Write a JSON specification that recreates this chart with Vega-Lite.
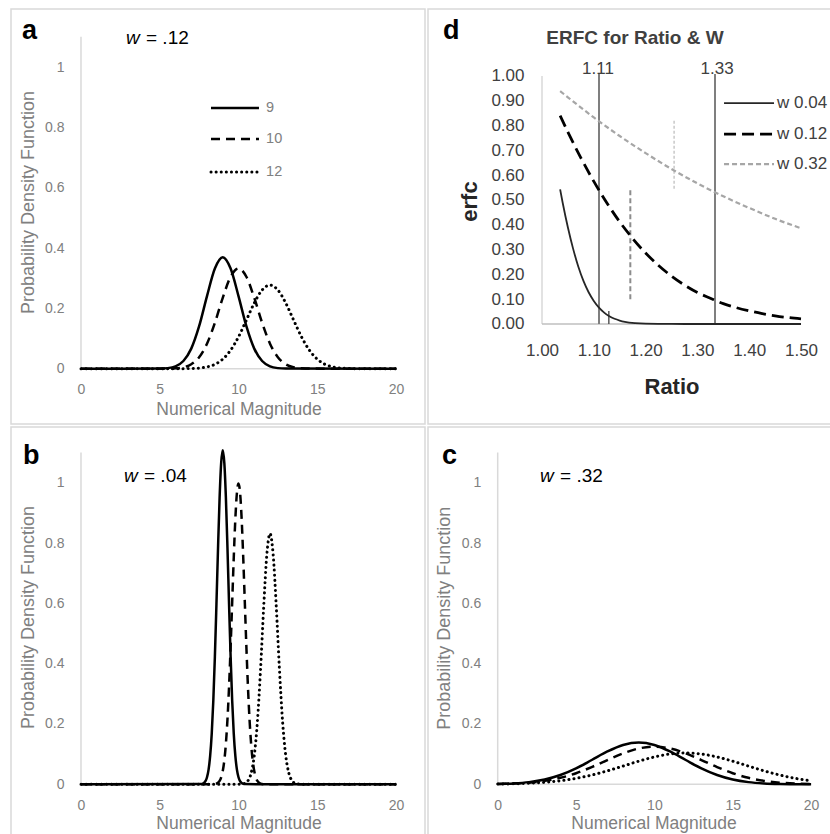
{
  "$schema": "https://vega.github.io/schema/vega-lite/v6.json",
  "padding": {"left": 10, "top": 8, "right": 0, "bottom": 0},
  "background": "white",
  "config": {
    "view": {"stroke": "#d9d9d9", "strokeWidth": 1.5},
    "font": "Liberation Sans",
    "axis": {"domain": false, "ticks": false, "grid": false, "labelFlush": false, "labelOverlap": false, "labelFont": "Liberation Sans", "titleFont": "Liberation Sans"}
  },
  "datasets": {
    "a": [
      {"n":"9","x":0,"y":0},{"n":"9","x":5,"y":0.0004},{"n":"9","x":5.5,"y":0.0019},{"n":"9","x":6,"y":0.0078},{"n":"9","x":6.5,"y":0.0254},{"n":"9","x":7,"y":0.0665},{"n":"9","x":7.5,"y":0.1408},{"n":"9","x":8,"y":0.2406},{"n":"9","x":8.5,"y":0.3319},{"n":"9","x":9,"y":0.3694},{"n":"9","x":9.5,"y":0.3319},{"n":"9","x":10,"y":0.2406},{"n":"9","x":10.5,"y":0.1408},{"n":"9","x":11,"y":0.0665},{"n":"9","x":11.5,"y":0.0254},{"n":"9","x":12,"y":0.0078},{"n":"9","x":12.5,"y":0.0019},{"n":"9","x":13,"y":0.0004},{"n":"9","x":20,"y":0},
      {"n":"10","x":0,"y":0},{"n":"10","x":5.5,"y":0.0003},{"n":"10","x":6,"y":0.0013},{"n":"10","x":6.5,"y":0.0047},{"n":"10","x":7,"y":0.0146},{"n":"10","x":7.5,"y":0.038},{"n":"10","x":8,"y":0.0829},{"n":"10","x":8.5,"y":0.1522},{"n":"10","x":9,"y":0.2349},{"n":"10","x":9.5,"y":0.3049},{"n":"10","x":10,"y":0.3325},{"n":"10","x":10.5,"y":0.3049},{"n":"10","x":11,"y":0.2349},{"n":"10","x":11.5,"y":0.1522},{"n":"10","x":12,"y":0.0829},{"n":"10","x":12.5,"y":0.038},{"n":"10","x":13,"y":0.0146},{"n":"10","x":13.5,"y":0.0047},{"n":"10","x":14,"y":0.0013},{"n":"10","x":14.5,"y":0.0003},{"n":"10","x":20,"y":0},
      {"n":"12","x":0,"y":0},{"n":"12","x":6.5,"y":0.0002},{"n":"12","x":7,"y":0.0007},{"n":"12","x":7.5,"y":0.0021},{"n":"12","x":8,"y":0.0058},{"n":"12","x":8.5,"y":0.0144},{"n":"12","x":9,"y":0.0316},{"n":"12","x":9.5,"y":0.0614},{"n":"12","x":10,"y":0.1056},{"n":"12","x":10.5,"y":0.161},{"n":"12","x":11,"y":0.2177},{"n":"12","x":11.5,"y":0.2608},{"n":"12","x":12,"y":0.277},{"n":"12","x":12.5,"y":0.2608},{"n":"12","x":13,"y":0.2177},{"n":"12","x":13.5,"y":0.161},{"n":"12","x":14,"y":0.1056},{"n":"12","x":14.5,"y":0.0614},{"n":"12","x":15,"y":0.0316},{"n":"12","x":15.5,"y":0.0144},{"n":"12","x":16,"y":0.0058},{"n":"12","x":16.5,"y":0.0021},{"n":"12","x":17,"y":0.0007},{"n":"12","x":17.5,"y":0.0002},{"n":"12","x":20,"y":0}
    ],
    "b": [
      {"n":"9","x":0,"y":0},{"n":"9","x":7.6,"y":0.0006},{"n":"9","x":7.8,"y":0.0043},{"n":"9","x":7.9,"y":0.0104},{"n":"9","x":8.0,"y":0.0234},{"n":"9","x":8.1,"y":0.0487},{"n":"9","x":8.2,"y":0.0939},{"n":"9","x":8.3,"y":0.1673},{"n":"9","x":8.4,"y":0.2763},{"n":"9","x":8.5,"y":0.4224},{"n":"9","x":8.6,"y":0.5977},{"n":"9","x":8.7,"y":0.7829},{"n":"9","x":8.8,"y":0.9496},{"n":"9","x":8.9,"y":1.066},{"n":"9","x":9.0,"y":1.108},{"n":"9","x":9.1,"y":1.066},{"n":"9","x":9.2,"y":0.9496},{"n":"9","x":9.3,"y":0.7829},{"n":"9","x":9.4,"y":0.5977},{"n":"9","x":9.5,"y":0.4224},{"n":"9","x":9.6,"y":0.2763},{"n":"9","x":9.7,"y":0.1673},{"n":"9","x":9.8,"y":0.0939},{"n":"9","x":9.9,"y":0.0487},{"n":"9","x":10.0,"y":0.0234},{"n":"9","x":10.1,"y":0.0104},{"n":"9","x":10.2,"y":0.0043},{"n":"9","x":10.4,"y":0.0006},{"n":"9","x":20,"y":0},
      {"n":"10","x":0,"y":0},{"n":"10","x":8.4,"y":0.0003},{"n":"10","x":8.6,"y":0.0022},{"n":"10","x":8.7,"y":0.0051},{"n":"10","x":8.8,"y":0.0111},{"n":"10","x":8.9,"y":0.0227},{"n":"10","x":9.0,"y":0.0438},{"n":"10","x":9.1,"y":0.0794},{"n":"10","x":9.2,"y":0.135},{"n":"10","x":9.3,"y":0.2157},{"n":"10","x":9.4,"y":0.3238},{"n":"10","x":9.5,"y":0.4566},{"n":"10","x":9.6,"y":0.6049},{"n":"10","x":9.7,"y":0.7528},{"n":"10","x":9.8,"y":0.8802},{"n":"10","x":9.9,"y":0.9667},{"n":"10","x":10.0,"y":0.9974},{"n":"10","x":10.1,"y":0.9667},{"n":"10","x":10.2,"y":0.8802},{"n":"10","x":10.3,"y":0.7528},{"n":"10","x":10.4,"y":0.6049},{"n":"10","x":10.5,"y":0.4566},{"n":"10","x":10.6,"y":0.3238},{"n":"10","x":10.7,"y":0.2157},{"n":"10","x":10.8,"y":0.135},{"n":"10","x":10.9,"y":0.0794},{"n":"10","x":11.0,"y":0.0438},{"n":"10","x":11.1,"y":0.0227},{"n":"10","x":11.2,"y":0.0111},{"n":"10","x":11.3,"y":0.0051},{"n":"10","x":11.4,"y":0.0022},{"n":"10","x":11.6,"y":0.0003},{"n":"10","x":20,"y":0},
      {"n":"12","x":0,"y":0},{"n":"12","x":10.0,"y":0.0001},{"n":"12","x":10.2,"y":0.0007},{"n":"12","x":10.4,"y":0.0032},{"n":"12","x":10.6,"y":0.0118},{"n":"12","x":10.8,"y":0.0365},{"n":"12","x":11.0,"y":0.0949},{"n":"12","x":11.2,"y":0.2073},{"n":"12","x":11.4,"y":0.3805},{"n":"12","x":11.6,"y":0.5873},{"n":"12","x":11.8,"y":0.762},{"n":"12","x":12.0,"y":0.8311},{"n":"12","x":12.2,"y":0.762},{"n":"12","x":12.4,"y":0.5873},{"n":"12","x":12.6,"y":0.3805},{"n":"12","x":12.8,"y":0.2073},{"n":"12","x":13.0,"y":0.0949},{"n":"12","x":13.2,"y":0.0365},{"n":"12","x":13.4,"y":0.0118},{"n":"12","x":13.6,"y":0.0032},{"n":"12","x":13.8,"y":0.0007},{"n":"12","x":14.0,"y":0.0001},{"n":"12","x":20,"y":0}
    ],
    "c": [
      {"n":"9","x":0,"y":0.001},{"n":"9","x":1,"y":0.0029},{"n":"9","x":2,"y":0.0072},{"n":"9","x":3,"y":0.0158},{"n":"9","x":4,"y":0.0307},{"n":"9","x":5,"y":0.0528},{"n":"9","x":6,"y":0.0805},{"n":"9","x":7,"y":0.1088},{"n":"9","x":8,"y":0.1304},{"n":"9","x":9,"y":0.1385},{"n":"9","x":10,"y":0.1304},{"n":"9","x":11,"y":0.1088},{"n":"9","x":12,"y":0.0805},{"n":"9","x":13,"y":0.0528},{"n":"9","x":14,"y":0.0307},{"n":"9","x":15,"y":0.0158},{"n":"9","x":16,"y":0.0072},{"n":"9","x":17,"y":0.0029},{"n":"9","x":18,"y":0.001},{"n":"9","x":19,"y":0.0003},{"n":"9","x":20,"y":0.0001},
      {"n":"10","x":0,"y":0.0009},{"n":"10","x":1,"y":0.0024},{"n":"10","x":2,"y":0.0055},{"n":"10","x":3,"y":0.0114},{"n":"10","x":4,"y":0.0215},{"n":"10","x":5,"y":0.0368},{"n":"10","x":6,"y":0.0571},{"n":"10","x":7,"y":0.0804},{"n":"10","x":8,"y":0.1026},{"n":"10","x":9,"y":0.1188},{"n":"10","x":10,"y":0.1247},{"n":"10","x":11,"y":0.1188},{"n":"10","x":12,"y":0.1026},{"n":"10","x":13,"y":0.0804},{"n":"10","x":14,"y":0.0571},{"n":"10","x":15,"y":0.0368},{"n":"10","x":16,"y":0.0215},{"n":"10","x":17,"y":0.0114},{"n":"10","x":18,"y":0.0055},{"n":"10","x":19,"y":0.0024},{"n":"10","x":20,"y":0.0009},
      {"n":"12","x":0,"y":0.0008},{"n":"12","x":1,"y":0.0017},{"n":"12","x":2,"y":0.0035},{"n":"12","x":3,"y":0.0067},{"n":"12","x":4,"y":0.0119},{"n":"12","x":5,"y":0.0197},{"n":"12","x":6,"y":0.0307},{"n":"12","x":7,"y":0.0445},{"n":"12","x":8,"y":0.0604},{"n":"12","x":9,"y":0.0766},{"n":"12","x":10,"y":0.0907},{"n":"12","x":11,"y":0.1004},{"n":"12","x":12,"y":0.1039},{"n":"12","x":13,"y":0.1004},{"n":"12","x":14,"y":0.0907},{"n":"12","x":15,"y":0.0766},{"n":"12","x":16,"y":0.0604},{"n":"12","x":17,"y":0.0445},{"n":"12","x":18,"y":0.0307},{"n":"12","x":19,"y":0.0197},{"n":"12","x":20,"y":0.0119}
    ],
    "d": [
      {"w":"w 0.04","r":1.035,"e":0.543},{"w":"w 0.04","r":1.04,"e":0.488},{"w":"w 0.04","r":1.05,"e":0.389},{"w":"w 0.04","r":1.06,"e":0.304},{"w":"w 0.04","r":1.07,"e":0.232},{"w":"w 0.04","r":1.08,"e":0.174},{"w":"w 0.04","r":1.09,"e":0.128},{"w":"w 0.04","r":1.1,"e":0.093},{"w":"w 0.04","r":1.11,"e":0.066},{"w":"w 0.04","r":1.12,"e":0.046},{"w":"w 0.04","r":1.13,"e":0.031},{"w":"w 0.04","r":1.14,"e":0.021},{"w":"w 0.04","r":1.15,"e":0.014},{"w":"w 0.04","r":1.16,"e":0.009},{"w":"w 0.04","r":1.18,"e":0.0037},{"w":"w 0.04","r":1.2,"e":0.0014},{"w":"w 0.04","r":1.25,"e":0.0001},{"w":"w 0.04","r":1.3,"e":0},{"w":"w 0.04","r":1.4,"e":0},{"w":"w 0.04","r":1.5,"e":0},
      {"w":"w 0.12","r":1.035,"e":0.84},{"w":"w 0.12","r":1.05,"e":0.774},{"w":"w 0.12","r":1.075,"e":0.67},{"w":"w 0.12","r":1.1,"e":0.575},{"w":"w 0.12","r":1.125,"e":0.489},{"w":"w 0.12","r":1.15,"e":0.412},{"w":"w 0.12","r":1.175,"e":0.345},{"w":"w 0.12","r":1.2,"e":0.286},{"w":"w 0.12","r":1.225,"e":0.236},{"w":"w 0.12","r":1.25,"e":0.193},{"w":"w 0.12","r":1.275,"e":0.157},{"w":"w 0.12","r":1.3,"e":0.127},{"w":"w 0.12","r":1.325,"e":0.104},{"w":"w 0.12","r":1.35,"e":0.082},{"w":"w 0.12","r":1.375,"e":0.066},{"w":"w 0.12","r":1.4,"e":0.053},{"w":"w 0.12","r":1.425,"e":0.042},{"w":"w 0.12","r":1.45,"e":0.033},{"w":"w 0.12","r":1.475,"e":0.026},{"w":"w 0.12","r":1.5,"e":0.021},
      {"w":"w 0.32","r":1.035,"e":0.939},{"w":"w 0.32","r":1.05,"e":0.914},{"w":"w 0.32","r":1.1,"e":0.833},{"w":"w 0.32","r":1.15,"e":0.758},{"w":"w 0.32","r":1.2,"e":0.689},{"w":"w 0.32","r":1.25,"e":0.625},{"w":"w 0.32","r":1.3,"e":0.567},{"w":"w 0.32","r":1.35,"e":0.515},{"w":"w 0.32","r":1.4,"e":0.468},{"w":"w 0.32","r":1.45,"e":0.424},{"w":"w 0.32","r":1.5,"e":0.386}
    ]
  },
  "vconcat": [
    {
      "hconcat": [
        {
          "width": 414, "height": 415,
          "data": {"values": [{}]},
          "layer": [
            {"mark": {"type": "rule", "color": "#d9d9d9", "strokeWidth": 1.5},
             "encoding": {
               "x": {"datum": 0, "type": "quantitative", "scale": {"domain": [-4.444, 21.841], "nice": false, "zero": false},
                     "axis": {"values": [0,5,10,15,20], "format": "~g", "offset": -55.3, "labelPadding": 14, "labelFontSize": 14, "labelColor": "#808080", "title": "Numerical Magnitude", "titleFontSize": 17.5, "titleFontWeight": "normal", "titleColor": "#808080", "titleX": 227.5, "titleY": 41, "titleBaseline": "middle", "titleAlign": "center"}},
               "y": {"datum": 0, "type": "quantitative", "scale": {"domain": [-0.1833, 1.1923], "nice": false, "zero": false},
                     "axis": {"values": [0,0.2,0.4,0.6,0.8,1], "format": "~g", "offset": -70, "labelPadding": 17, "labelFontSize": 14, "labelColor": "#808080", "title": "Probability Density Function", "titleFontSize": 18, "titleFontWeight": "normal", "titleColor": "#808080", "titleX": -53, "titleY": 193, "titleBaseline": "middle", "titleAlign": "center"}},
               "y2": {"datum": 1.1}
             }},
            {"mark": {"type": "rule", "color": "#d9d9d9", "strokeWidth": 1.5},
             "encoding": {"x": {"datum": 0}, "x2": {"datum": 20}, "y": {"datum": 0}}},
            {"data": {"name": "a"}, "transform": [{"filter": "datum.n === '9'"}],
             "mark": {"type": "line", "color": "black", "strokeWidth": 2.5, "interpolate": "monotone"},
             "encoding": {"x": {"field": "x", "type": "quantitative"}, "y": {"field": "y", "type": "quantitative"}}},
            {"data": {"name": "a"}, "transform": [{"filter": "datum.n === '10'"}],
             "mark": {"type": "line", "color": "black", "strokeWidth": 2.5, "strokeDash": [9, 6], "interpolate": "monotone"},
             "encoding": {"x": {"field": "x", "type": "quantitative"}, "y": {"field": "y", "type": "quantitative"}}},
            {"data": {"name": "a"}, "transform": [{"filter": "datum.n === '12'"}],
             "mark": {"type": "line", "color": "black", "strokeWidth": 3, "strokeDash": [0.1, 5], "strokeCap": "round", "interpolate": "monotone"},
             "encoding": {"x": {"field": "x", "type": "quantitative"}, "y": {"field": "y", "type": "quantitative"}}},
            {"mark": {"type": "rule", "color": "black", "strokeWidth": 2.5},
             "encoding": {"x": {"datum": 8.254}, "x2": {"datum": 11.3}, "y": {"datum": 0.864}}},
            {"mark": {"type": "rule", "color": "black", "strokeWidth": 2.5, "strokeDash": [9, 6]},
             "encoding": {"x": {"datum": 8.254}, "x2": {"datum": 11.3}, "y": {"datum": 0.761}}},
            {"mark": {"type": "rule", "color": "black", "strokeWidth": 3, "strokeDash": [0.1, 5], "strokeCap": "round"},
             "encoding": {"x": {"datum": 8.254}, "x2": {"datum": 11.3}, "y": {"datum": 0.652}}},
            {"mark": {"type": "text", "text": "9", "align": "left", "baseline": "middle", "fontSize": 14.5, "color": "#808080"},
             "encoding": {"x": {"datum": 11.75}, "y": {"datum": 0.864}}},
            {"mark": {"type": "text", "text": "10", "align": "left", "baseline": "middle", "fontSize": 14.5, "color": "#808080"},
             "encoding": {"x": {"datum": 11.75}, "y": {"datum": 0.761}}},
            {"mark": {"type": "text", "text": "12", "align": "left", "baseline": "middle", "fontSize": 14.5, "color": "#808080"},
             "encoding": {"x": {"datum": 11.75}, "y": {"datum": 0.652}}},
            {"mark": {"type": "text", "text": "a", "align": "left", "baseline": "alphabetic", "fontSize": 27, "fontWeight": "bold", "color": "black"},
             "encoding": {"x": {"datum": -3.746}, "y": {"datum": 1.0928}}},
            {"mark": {"type": "text", "text": "w", "align": "left", "baseline": "middle", "fontSize": 19, "fontStyle": "italic", "color": "black"},
             "encoding": {"x": {"datum": 2.857}, "y": {"datum": 1.0978}}},
            {"mark": {"type": "text", "text": "= .12", "align": "left", "baseline": "middle", "fontSize": 19, "color": "black"},
             "encoding": {"x": {"datum": 4.127}, "y": {"datum": 1.0978}}}
          ]
        },
        {
          "width": 403, "height": 415,
          "data": {"values": [{}]},
          "layer": [
            {"mark": {"type": "rule", "color": "#d9d9d9", "strokeWidth": 1.5},
             "encoding": {
               "x": {"datum": 1, "type": "quantitative", "scale": {"domain": [0.77992, 1.5579], "nice": false, "zero": false},
                     "axis": {"values": [1, 1.1, 1.2, 1.3, 1.4, 1.5], "format": ".2f", "offset": -100, "labelPadding": 18, "labelFontSize": 17, "labelColor": "#404040", "title": "Ratio", "titleFontSize": 22, "titleFontWeight": "bold", "titleColor": "#262626", "titleX": 243.5, "titleY": 62, "titleBaseline": "middle", "titleAlign": "center"}},
               "y": {"datum": 0, "type": "quantitative", "scale": {"domain": [-0.40323, 1.27016], "nice": false, "zero": false},
                     "axis": {"values": [0, 0.1, 0.2, 0.3, 0.4, 0.5, 0.6, 0.7, 0.8, 0.9, 1], "format": ".2f", "offset": -114, "labelPadding": 18, "labelFontSize": 17, "labelColor": "#404040", "title": "erfc", "titleFontSize": 22, "titleFontWeight": "bold", "titleColor": "#262626", "titleX": -73, "titleY": 192, "titleBaseline": "middle", "titleAlign": "center"}},
               "y2": {"datum": 1.0}
             }},
            {"mark": {"type": "rule", "color": "#bfbfbf", "strokeWidth": 1.5},
             "encoding": {"x": {"datum": 1}, "x2": {"datum": 1.5}, "y": {"datum": 0}}},
            {"mark": {"type": "rule", "color": "#7f7f7f", "strokeWidth": 2},
             "encoding": {"x": {"datum": 1.11}, "y": {"datum": 0}, "y2": {"datum": 1.008}}},
            {"mark": {"type": "rule", "color": "#7f7f7f", "strokeWidth": 2},
             "encoding": {"x": {"datum": 1.334}, "y": {"datum": 0}, "y2": {"datum": 1.008}}},
            {"mark": {"type": "rule", "color": "#595959", "strokeWidth": 1.5},
             "encoding": {"x": {"datum": 1.129}, "y": {"datum": 0}, "y2": {"datum": 0.052}}},
            {"mark": {"type": "rule", "color": "#8c8c8c", "strokeWidth": 2, "strokeDash": [5, 3]},
             "encoding": {"x": {"datum": 1.1705}, "y": {"datum": 0.1}, "y2": {"datum": 0.54}}},
            {"mark": {"type": "rule", "color": "#c8c8c8", "strokeWidth": 1.5, "strokeDash": [3, 2]},
             "encoding": {"x": {"datum": 1.255}, "y": {"datum": 0.545}, "y2": {"datum": 0.82}}},
            {"data": {"name": "d"}, "transform": [{"filter": "datum.w === 'w 0.32'"}],
             "mark": {"type": "line", "color": "#a6a6a6", "strokeWidth": 2.2, "strokeDash": [5, 3], "interpolate": "monotone"},
             "encoding": {"x": {"field": "r", "type": "quantitative"}, "y": {"field": "e", "type": "quantitative"}}},
            {"data": {"name": "d"}, "transform": [{"filter": "datum.w === 'w 0.12'"}],
             "mark": {"type": "line", "color": "black", "strokeWidth": 2.8, "strokeDash": [12, 6], "interpolate": "monotone"},
             "encoding": {"x": {"field": "r", "type": "quantitative"}, "y": {"field": "e", "type": "quantitative"}}},
            {"data": {"name": "d"}, "transform": [{"filter": "datum.w === 'w 0.04'"}],
             "mark": {"type": "line", "color": "#262626", "strokeWidth": 1.8, "interpolate": "monotone"},
             "encoding": {"x": {"field": "r", "type": "quantitative"}, "y": {"field": "e", "type": "quantitative"}}},
            {"mark": {"type": "rule", "color": "#262626", "strokeWidth": 1.8},
             "encoding": {"x": {"datum": 1.3514}, "x2": {"datum": 1.4479}, "y": {"datum": 0.891}}},
            {"mark": {"type": "rule", "color": "black", "strokeWidth": 2.8, "strokeDash": [12, 6]},
             "encoding": {"x": {"datum": 1.3514}, "x2": {"datum": 1.4479}, "y": {"datum": 0.766}}},
            {"mark": {"type": "rule", "color": "#a6a6a6", "strokeWidth": 2.2, "strokeDash": [5, 3]},
             "encoding": {"x": {"datum": 1.3514}, "x2": {"datum": 1.4479}, "y": {"datum": 0.645}}},
            {"mark": {"type": "text", "text": "w 0.04", "align": "left", "baseline": "middle", "fontSize": 17, "color": "#404040"},
             "encoding": {"x": {"datum": 1.4537}, "y": {"datum": 0.891}}},
            {"mark": {"type": "text", "text": "w 0.12", "align": "left", "baseline": "middle", "fontSize": 17, "color": "#404040"},
             "encoding": {"x": {"datum": 1.4537}, "y": {"datum": 0.766}}},
            {"mark": {"type": "text", "text": "w 0.32", "align": "left", "baseline": "middle", "fontSize": 17, "color": "#404040"},
             "encoding": {"x": {"datum": 1.4537}, "y": {"datum": 0.645}}},
            {"mark": {"type": "text", "text": "1.11", "align": "center", "baseline": "middle", "fontSize": 17, "color": "#404040"},
             "encoding": {"x": {"datum": 1.108}, "y": {"datum": 1.03}}},
            {"mark": {"type": "text", "text": "1.33", "align": "center", "baseline": "middle", "fontSize": 17, "color": "#404040"},
             "encoding": {"x": {"datum": 1.338}, "y": {"datum": 1.03}}},
            {"mark": {"type": "text", "text": "ERFC for Ratio & W", "align": "center", "baseline": "middle", "fontSize": 19, "fontWeight": "bold", "color": "#404040"},
             "encoding": {"x": {"datum": 1.1795}, "y": {"datum": 1.1532}}},
            {"mark": {"type": "text", "text": "d", "align": "left", "baseline": "alphabetic", "fontSize": 27, "fontWeight": "bold", "color": "black"},
             "encoding": {"x": {"datum": 0.8089}, "y": {"datum": 1.1492}}}
          ]
        }
      ],
      "spacing": 1
    },
    {
      "hconcat": [
        {
          "width": 414, "height": 408,
          "data": {"values": [{}]},
          "layer": [
            {"mark": {"type": "rule", "color": "#d9d9d9", "strokeWidth": 1.5},
             "encoding": {
               "x": {"datum": 0, "type": "quantitative", "scale": {"domain": [-4.444, 21.841], "nice": false, "zero": false},
                     "axis": {"values": [0,5,10,15,20], "format": "~g", "offset": -50.7, "labelPadding": 14, "labelFontSize": 14, "labelColor": "#808080", "title": "Numerical Magnitude", "titleFontSize": 17.5, "titleFontWeight": "normal", "titleColor": "#808080", "titleX": 227.5, "titleY": 39, "titleBaseline": "middle", "titleAlign": "center"}},
               "y": {"datum": 0, "type": "quantitative", "scale": {"domain": [-0.1681, 1.1847], "nice": false, "zero": false},
                     "axis": {"values": [0,0.2,0.4,0.6,0.8,1], "format": "~g", "offset": -70, "labelPadding": 17, "labelFontSize": 14, "labelColor": "#808080", "title": "Probability Density Function", "titleFontSize": 18, "titleFontWeight": "normal", "titleColor": "#808080", "titleX": -53, "titleY": 190, "titleBaseline": "middle", "titleAlign": "center"}},
               "y2": {"datum": 1.1}
             }},
            {"mark": {"type": "rule", "color": "#d9d9d9", "strokeWidth": 1.5},
             "encoding": {"x": {"datum": 0}, "x2": {"datum": 20}, "y": {"datum": 0}}},
            {"data": {"name": "b"}, "transform": [{"filter": "datum.n === '9'"}],
             "mark": {"type": "line", "color": "black", "strokeWidth": 2.5, "interpolate": "monotone"},
             "encoding": {"x": {"field": "x", "type": "quantitative"}, "y": {"field": "y", "type": "quantitative"}}},
            {"data": {"name": "b"}, "transform": [{"filter": "datum.n === '10'"}],
             "mark": {"type": "line", "color": "black", "strokeWidth": 2.5, "strokeDash": [9, 6], "interpolate": "monotone"},
             "encoding": {"x": {"field": "x", "type": "quantitative"}, "y": {"field": "y", "type": "quantitative"}}},
            {"data": {"name": "b"}, "transform": [{"filter": "datum.n === '12'"}],
             "mark": {"type": "line", "color": "black", "strokeWidth": 3, "strokeDash": [0.1, 5], "strokeCap": "round", "interpolate": "monotone"},
             "encoding": {"x": {"field": "x", "type": "quantitative"}, "y": {"field": "y", "type": "quantitative"}}},
            {"mark": {"type": "text", "text": "b", "align": "left", "baseline": "alphabetic", "fontSize": 27, "fontWeight": "bold", "color": "black"},
             "encoding": {"x": {"datum": -3.683}, "y": {"datum": 1.062}}},
            {"mark": {"type": "text", "text": "w", "align": "left", "baseline": "middle", "fontSize": 19, "fontStyle": "italic", "color": "black"},
             "encoding": {"x": {"datum": 2.73}, "y": {"datum": 1.022}}},
            {"mark": {"type": "text", "text": "= .04", "align": "left", "baseline": "middle", "fontSize": 19, "color": "black"},
             "encoding": {"x": {"datum": 4.0}, "y": {"datum": 1.022}}}
          ]
        },
        {
          "width": 403, "height": 408,
          "data": {"values": [{}]},
          "layer": [
            {"mark": {"type": "rule", "color": "#d9d9d9", "strokeWidth": 1.5},
             "encoding": {
               "x": {"datum": 0, "type": "quantitative", "scale": {"domain": [-4.448, 21.27], "nice": false, "zero": false},
                     "axis": {"values": [0,5,10,15,20], "format": "~g", "offset": -50.7, "labelPadding": 14, "labelFontSize": 14, "labelColor": "#808080", "title": "Numerical Magnitude", "titleFontSize": 17.5, "titleFontWeight": "normal", "titleColor": "#808080", "titleX": 225.5, "titleY": 39, "titleBaseline": "middle", "titleAlign": "center"}},
               "y": {"datum": 0, "type": "quantitative", "scale": {"domain": [-0.1681, 1.1847], "nice": false, "zero": false},
                     "axis": {"values": [0,0.2,0.4,0.6,0.8,1], "format": "~g", "offset": -69.7, "labelPadding": 17, "labelFontSize": 14, "labelColor": "#808080", "title": "Probability Density Function", "titleFontSize": 18, "titleFontWeight": "normal", "titleColor": "#808080", "titleX": -53.7, "titleY": 190.7, "titleBaseline": "middle", "titleAlign": "center"}},
               "y2": {"datum": 1.1}
             }},
            {"mark": {"type": "rule", "color": "#d9d9d9", "strokeWidth": 1.5},
             "encoding": {"x": {"datum": 0}, "x2": {"datum": 20}, "y": {"datum": 0}}},
            {"data": {"name": "c"}, "transform": [{"filter": "datum.n === '9'"}],
             "mark": {"type": "line", "color": "black", "strokeWidth": 2.5, "interpolate": "monotone"},
             "encoding": {"x": {"field": "x", "type": "quantitative"}, "y": {"field": "y", "type": "quantitative"}}},
            {"data": {"name": "c"}, "transform": [{"filter": "datum.n === '10'"}],
             "mark": {"type": "line", "color": "black", "strokeWidth": 2.5, "strokeDash": [9, 6], "interpolate": "monotone"},
             "encoding": {"x": {"field": "x", "type": "quantitative"}, "y": {"field": "y", "type": "quantitative"}}},
            {"data": {"name": "c"}, "transform": [{"filter": "datum.n === '12'"}],
             "mark": {"type": "line", "color": "black", "strokeWidth": 3, "strokeDash": [0.1, 5], "strokeCap": "round", "interpolate": "monotone"},
             "encoding": {"x": {"field": "x", "type": "quantitative"}, "y": {"field": "y", "type": "quantitative"}}},
            {"mark": {"type": "text", "text": "c", "align": "left", "baseline": "alphabetic", "fontSize": 27, "fontWeight": "bold", "color": "black"},
             "encoding": {"x": {"datum": -3.555}, "y": {"datum": 1.062}}},
            {"mark": {"type": "text", "text": "w", "align": "left", "baseline": "middle", "fontSize": 19, "fontStyle": "italic", "color": "black"},
             "encoding": {"x": {"datum": 2.7}, "y": {"datum": 1.022}}},
            {"mark": {"type": "text", "text": "= .32", "align": "left", "baseline": "middle", "fontSize": 19, "color": "black"},
             "encoding": {"x": {"datum": 3.976}, "y": {"datum": 1.022}}}
          ]
        }
      ],
      "spacing": 1
    }
  ],
  "spacing": 1
}
